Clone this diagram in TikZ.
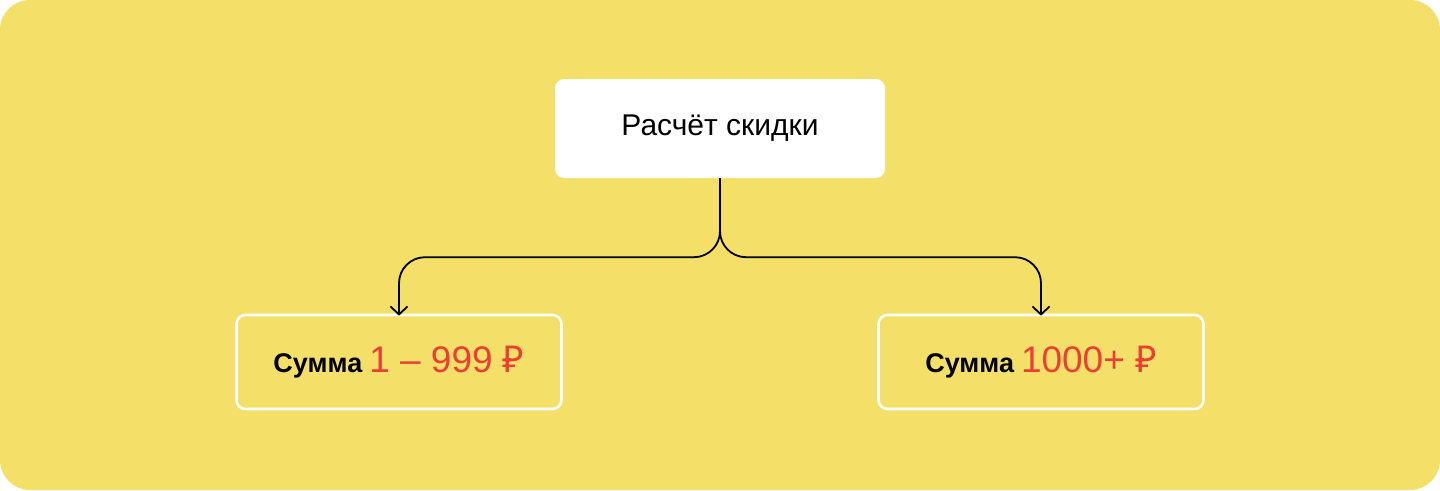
\documentclass[tikz,border=0pt]{standalone}
\usepackage{fontspec}
\setmainfont{Liberation Sans}
\newfontfamily\rubfont{Noto Sans}
\usepackage{tikz}
\usetikzlibrary{arrows.meta}
\usepackage{xcolor}
\definecolor{bgyellow}{HTML}{F4DF69}
\definecolor{sumred}{HTML}{EE3E34}

\tikzset{
    headbox/.style={fill=white, rounded corners=9pt, minimum width=330pt, minimum height=99pt, inner sep=0pt},
    casebox/.style={draw=white, line width=2.6pt, rounded corners=9pt, minimum width=325pt, minimum height=94pt, inner sep=0pt},
    branch/.style={line width=1.8pt, rounded corners=26pt, -{Straight Barb[length=8pt,width=17pt,line width=1.8pt]}},
}
\newcommand{\summa}[1]{{\fontsize{27}{32}\selectfont\bfseries Сумма}\hspace{7pt}{\fontsize{37}{44}\selectfont\color{sumred}#1}}
\newcommand{\rub}{{\rubfont ₽}}

\begin{document}
\begin{tikzpicture}[x=1pt, y=-1pt]
    \useasboundingbox (0,0) rectangle (1440,490);
    \fill[bgyellow, rounded corners=30pt] (0,0) rectangle (1440,490);
    \node[headbox] (calc) at (720,128.5) {\fontsize{30}{36}\selectfont Расчёт скидки};
    \node[casebox] (low) at (399,362) {\summa{1 – 999 \rub}};
    \node[casebox] (high) at (1041,362) {\summa{1000+ \rub}};
    \draw[branch] (calc.south) -- ++(0,79) -| ([yshift=-2pt]low.north);
    \draw[branch] (calc.south) -- ++(0,79) -| ([yshift=-2pt]high.north);
\end{tikzpicture}
\end{document}
